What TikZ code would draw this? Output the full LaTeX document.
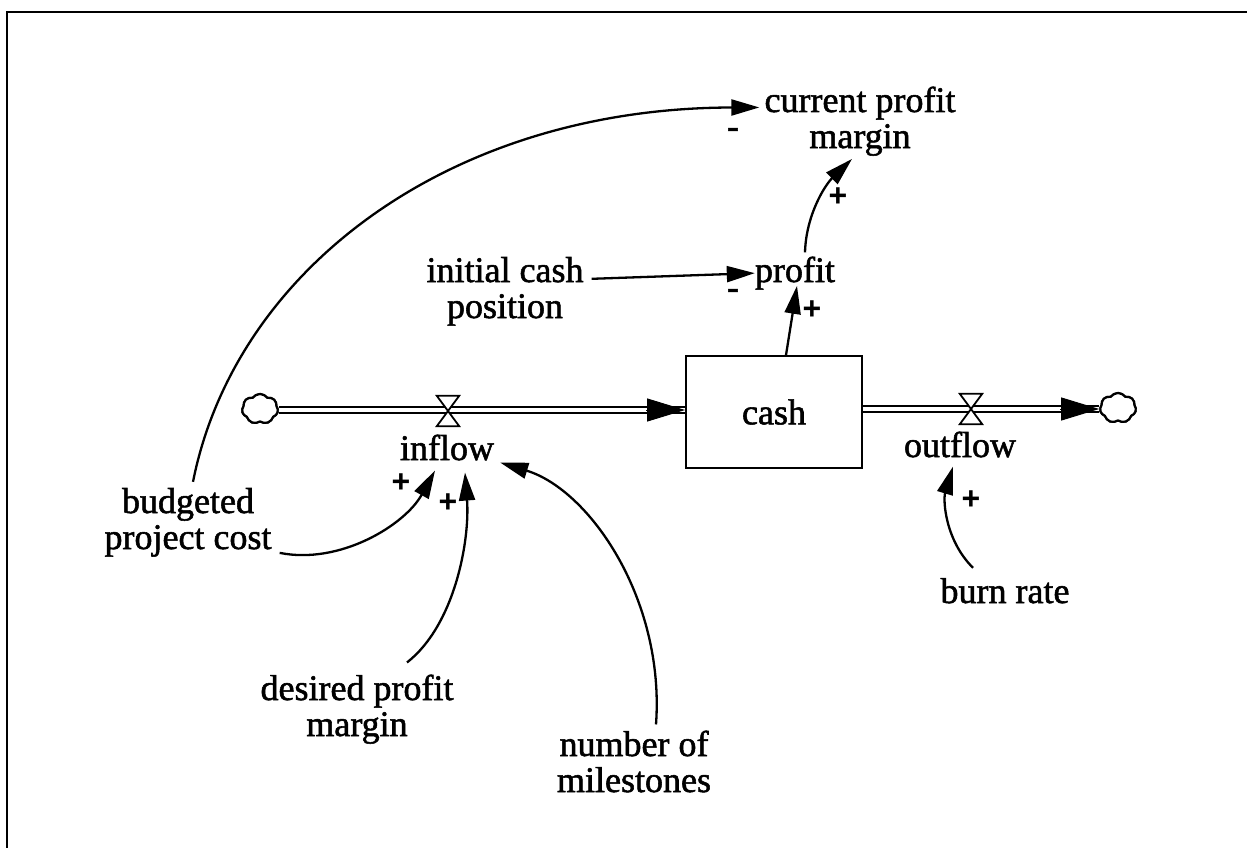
\documentclass[tikz,border=0pt]{standalone}
\usepackage{fontspec}
\setmainfont{Liberation Serif}[FakeBold=1.5]
\newfontfamily\signfont{Liberation Sans}
\usetikzlibrary{arrows.meta,shapes.symbols}
\begin{document}
\begin{tikzpicture}[x=1pt,y=-1pt,
  lbl/.style={font=\fontsize{36}{36}\selectfont, align=center, inner sep=0pt},
  sign/.style={font=\signfont\bfseries\fontsize{32}{32}\selectfont, inner sep=0pt},
  minus/.style={font=\fontsize{36}{36}\selectfont, inner sep=0pt},
  link/.style={line width=2.3pt, -{Triangle[length=28pt,width=16pt]}},
  pipe/.style={double distance=4.5pt, line width=2pt},
  pipetip/.style={line width=1pt, -{Triangle[length=38pt,width=23pt]}},
  cloudy/.style={cloud, cloud puffs=7, cloud puff arc=110, draw, line width=2.2pt,
    minimum width=36pt, minimum height=30pt, inner sep=0pt, fill=white},
  valvebox/.style={minimum width=22pt, minimum height=30pt, inner sep=0pt},
  stock/.style={draw, line width=1.8pt, minimum width=176pt, minimum height=112pt,
    inner sep=0pt, font=\fontsize{36}{36}\selectfont}
]
\useasboundingbox (0,0) rectangle (1247,848);
% frame (top and left edges)
\draw[line width=2.5pt] (7,848) -- (7,12) -- (1247,12);

% stock, sources and valves
\node[stock] (cash) at (774,412) {cash};
\node[cloudy] (src) at (260,409) {};
\node[cloudy] (sink) at (1118,408) {};
\node[valvebox] (vin) at (448,411) {};
\node[valvebox] (vout) at (971,409) {};

% pipes
\draw[pipe] (src.east |- 0,410) -- (cash.west |- 0,410);
\draw[pipetip] ([xshift=-39pt]cash.west |- 0,410) -- (cash.west |- 0,410);
\draw[pipe] (cash.east |- 0,409) -- (sink.west |- 0,409);
\draw[pipetip] ([xshift=-39pt]sink.west |- 0,409) -- (sink.west |- 0,409);
\node[cloudy] at (src) {};
\node[cloudy] at (sink) {};
\draw[line width=1.8pt, fill=white] (vin.north west) -- (vin.north east) -- (vin.south west) -- (vin.south east) -- cycle;
\draw[line width=1.8pt, fill=white] (vout.north west) -- (vout.north east) -- (vout.south west) -- (vout.south east) -- cycle;

% labels (base = baseline of the last line)
\node[lbl, anchor=base] (inflow) at (447,460) {inflow};
\node[lbl, anchor=base] (outflow) at (960,457) {outflow};
\node[lbl, anchor=base] (cpm) at (860,148) {current profit\\margin};
\node[lbl, anchor=base] (profit) at (795,282) {profit};
\node[lbl, anchor=base] (icp) at (505,318) {initial cash\\position};
\node[lbl, anchor=base] (bpc) at (188,549) {budgeted\\project cost};
\node[lbl, anchor=base] (dpm) at (357,736) {desired profit\\margin};
\node[lbl, anchor=base] (nom) at (634,792) {number of\\milestones};
\node[lbl, anchor=base] (burn) at (1005,603) {burn rate};

% causal links
\draw[link] ([shift={(5,-6)}]bpc.north) .. controls (235,270) and (449,108) .. ([shift={(-5,21)}]cpm.north west);
\draw[link] ([shift={(10,-4)}]profit.north) .. controls (806,215) and (825,185) .. ([shift={(-8,3)}]cpm.south);
\draw[link] ([shift={(8,22)}]icp.north east) -- (profit.west);
\draw[link] ([xshift=12pt]cash.north) -- ([shift={(2,-4)}]profit.south);
\draw[link] ([shift={(8,-4)}]bpc.south east) .. controls (340,565) and (405,525) .. ([shift={(-12,10)}]inflow.south);
\draw[link] ([shift={(50,-12)}]dpm.north) .. controls (455,625) and (470,540) .. ([shift={(18,12)}]inflow.south);
\draw[link] ([shift={(22,-6)}]nom.north) .. controls (665,600) and (590,490) .. ([shift={(6,2)}]inflow.south east);
\draw[link] ([shift={(-32,-10)}]burn.north) .. controls (945,540) and (943,500) .. ([shift={(-7,9)}]outflow.south);

% polarities
\node[minus] (s1) at (733,133) {-};
\node[sign] (s2) at (838,197) {+};
\node[minus] (s3) at (733,294) {-};
\node[sign] (s4) at (812,310) {+};
\node[sign] (s5) at (401,483) {+};
\node[sign] (s6) at (448,503) {+};
\node[sign] (s7) at (971,500) {+};
\end{tikzpicture}
\end{document}
